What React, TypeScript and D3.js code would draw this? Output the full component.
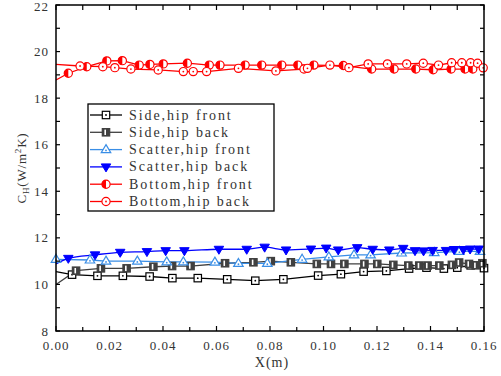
import React from "react";
import * as d3 from "d3";

const xTicks = [0, 0.02, 0.04, 0.06, 0.08, 0.1, 0.12, 0.14, 0.16];
const yTicks = [8, 10, 12, 14, 16, 18, 20, 22];

const sideFrontX = [0, 0.006, 0.0155, 0.025, 0.035, 0.0435, 0.053, 0.064, 0.0745, 0.085, 0.098, 0.1065, 0.115, 0.1235, 0.132, 0.1385, 0.145, 0.15, 0.155, 0.16];
const sideFrontY = [10.55, 10.42, 10.37, 10.37, 10.34, 10.27, 10.27, 10.22, 10.16, 10.22, 10.38, 10.44, 10.55, 10.58, 10.68, 10.72, 10.68, 10.72, 10.82, 10.7];

const sideBackX = [0, 0.0075, 0.0168, 0.0264, 0.0364, 0.0434, 0.0503, 0.0632, 0.0738, 0.0803, 0.0878, 0.0975, 0.1028, 0.1078, 0.1153, 0.1201, 0.1261, 0.1317, 0.1358, 0.1389, 0.1433, 0.148, 0.1507, 0.1544, 0.1569, 0.1594];
const sideBackY = [10.0, 10.59, 10.69, 10.69, 10.76, 10.79, 10.79, 10.91, 10.95, 11.0, 10.95, 10.88, 10.88, 10.88, 10.88, 10.88, 10.84, 10.81, 10.81, 10.81, 10.81, 10.84, 10.94, 10.88, 10.82, 10.91];

const scatFrontX = [0, 0.0127, 0.0187, 0.0304, 0.0414, 0.0476, 0.0594, 0.0682, 0.079, 0.092, 0.102, 0.1114, 0.1176, 0.1292, 0.1414, 0.1508, 0.1585];
const scatFrontY = [11.08, 11.05, 11.0, 11.0, 10.97, 10.97, 10.96, 10.9, 10.9, 11.08, 11.18, 11.27, 11.27, 11.35, 11.37, 11.42, 11.42];

const scatBackX = [0, 0.0046, 0.0146, 0.024, 0.034, 0.041, 0.048, 0.0609, 0.0713, 0.078, 0.086, 0.0953, 0.101, 0.1055, 0.1126, 0.1184, 0.1246, 0.1298, 0.1342, 0.1374, 0.1408, 0.1458, 0.1488, 0.1523, 0.1548, 0.158];
const scatBackY = [10.88, 11.12, 11.27, 11.38, 11.41, 11.45, 11.45, 11.51, 11.51, 11.6, 11.48, 11.52, 11.56, 11.48, 11.58, 11.51, 11.48, 11.55, 11.45, 11.44, 11.46, 11.46, 11.5, 11.5, 11.52, 11.52];

const botFrontX = [0, 0.0046, 0.0115, 0.019, 0.0248, 0.0311, 0.0351, 0.0401, 0.0491, 0.0573, 0.0613, 0.0707, 0.0769, 0.0844, 0.0904, 0.0964, 0.1074, 0.118, 0.1264, 0.1345, 0.141, 0.1477, 0.1529, 0.1558];
const botFrontY = [18.78, 19.07, 19.35, 19.6, 19.61, 19.42, 19.45, 19.47, 19.5, 19.42, 19.42, 19.42, 19.42, 19.42, 19.42, 19.42, 19.4, 19.25, 19.25, 19.25, 19.22, 19.25, 19.25, 19.25];

const botBackX = [0, 0.009, 0.0175, 0.022, 0.028, 0.0382, 0.0476, 0.0513, 0.0563, 0.0682, 0.0822, 0.0927, 0.094, 0.1024, 0.1095, 0.1167, 0.1239, 0.1311, 0.1373, 0.143, 0.1479, 0.1517, 0.155, 0.1576, 0.1597];
const botBackY = [19.45, 19.38, 19.35, 19.31, 19.25, 19.21, 19.14, 19.14, 19.14, 19.28, 19.17, 19.25, 19.28, 19.42, 19.31, 19.47, 19.47, 19.47, 19.5, 19.42, 19.52, 19.52, 19.52, 19.5, 19.3];

const seriesNames = ["Side,hip front", "Side,hip back", "Scatter,hip front", "Scatter,hip back", "Bottom,hip front", "Bottom,hip back"];

type MarkerKind = "sqOpen" | "sqHalf" | "triOpen" | "triDown" | "cirHalf" | "cirOpen";

const FONT = "'Liberation Serif', 'Times New Roman', serif";

function Marker({ kind, x, y, color }: { kind: MarkerKind; x: number; y: number; color: string }) {
  const s = 3.7;
  if (kind === "sqOpen") {
    return (
      <g>
        <rect x={x - s} y={y - s} width={2 * s} height={2 * s} fill="white" stroke={color} strokeWidth={1.2} />
        <circle cx={x} cy={y} r={0.9} fill={color} />
      </g>
    );
  }
  if (kind === "sqHalf") {
    return (
      <g>
        <rect x={x - s} y={y - s} width={2 * s} height={2 * s} fill={color} stroke={color} strokeWidth={1.2} />
        <rect x={x - 1.6} y={y - s + 1} width={1.6} height={2 * s - 2} fill="white" />
      </g>
    );
  }
  if (kind === "triOpen") {
    const r = 5;
    const p = `${x},${y - r} ${x + r * 0.95},${y + r * 0.6} ${x - r * 0.95},${y + r * 0.6}`;
    return (
      <g>
        <polygon points={p} fill="white" stroke={color} strokeWidth={1.2} />
        <circle cx={x} cy={y + 0.8} r={0.9} fill={color} />
      </g>
    );
  }
  if (kind === "triDown") {
    const r = 5;
    const p = `${x},${y + r} ${x + r * 0.95},${y - r * 0.6} ${x - r * 0.95},${y - r * 0.6}`;
    return <polygon points={p} fill={color} stroke={color} strokeWidth={1} />;
  }
  if (kind === "cirHalf") {
    const r = 4.1;
    return (
      <g>
        <circle cx={x} cy={y} r={r} fill="white" stroke={color} strokeWidth={1.2} />
        <path d={`M${x},${y - r} A${r},${r} 0 0 0 ${x},${y + r} Z`} fill={color} />
      </g>
    );
  }
  const r = 4.1;
  return (
    <g>
      <circle cx={x} cy={y} r={r} fill="white" stroke={color} strokeWidth={1.2} />
      <circle cx={x} cy={y} r={0.9} fill={color} />
    </g>
  );
}

export default function App() {
  const left = 56, right = 484, top = 5, bottom = 331;
  const x = d3.scaleLinear().domain([0, 0.16]).range([left, right]);
  const y = d3.scaleLinear().domain([8, 22]).range([bottom, top]);

  const series = [
    { xs: sideFrontX, ys: sideFrontY, color: "#000000", kind: "sqOpen" as MarkerKind, skipFirst: true, curve: d3.curveLinear },
    { xs: sideBackX, ys: sideBackY, color: "#404040", kind: "sqHalf" as MarkerKind, skipFirst: true, curve: d3.curveLinear },
    { xs: scatFrontX, ys: scatFrontY, color: "#3a8ee6", kind: "triOpen" as MarkerKind, skipFirst: false, curve: d3.curveLinear },
    { xs: scatBackX, ys: scatBackY, color: "#0000ff", kind: "triDown" as MarkerKind, skipFirst: true, curve: d3.curveMonotoneX },
    { xs: botFrontX, ys: botFrontY, color: "#ff0000", kind: "cirHalf" as MarkerKind, skipFirst: true, curve: d3.curveLinear },
    { xs: botBackX, ys: botBackY, color: "#ff0000", kind: "cirOpen" as MarkerKind, skipFirst: true, curve: d3.curveLinear },
  ];

  const xMinor = d3.range(0, 0.1601, 0.01);
  const yMinor = d3.range(8, 22.01, 1);

  const legX = 88, legY = 104, legW = 186, legH = 107;
  const rowH = 17.3;

  return (
    <svg width={501} height={376} style={{ position: "absolute", left: 0, top: 0, background: "white" }}>
      <rect x={0} y={0} width={501} height={376} fill="white" />
      {series.map((s, i) => {
        const pts: [number, number][] = s.xs.map((v, j) => [x(v), y(s.ys[j])]);
        const line = d3.line().curve(s.curve)(pts) || "";
        return <path key={"l" + i} d={line} fill="none" stroke={s.color} strokeWidth={1.3} />;
      })}
      {series.map((s, i) => (
        <g key={"m" + i}>
          {s.xs.map((v, j) =>
            s.skipFirst && j === 0 ? null : <Marker key={j} kind={s.kind} x={x(v)} y={y(s.ys[j])} color={s.color} />
          )}
        </g>
      ))}
      <rect x={left} y={top} width={right - left} height={bottom - top} fill="none" stroke="black" strokeWidth={1.5} />
      {xMinor.map((t, i) => {
        const major = i % 2 === 0;
        return (
          <g key={"xt" + i}>
            <line x1={x(t)} x2={x(t)} y1={bottom} y2={bottom - (major ? 5 : 4)} stroke="black" strokeWidth={1.2} />
            <line x1={x(t)} x2={x(t)} y1={top} y2={top + 5} stroke="black" strokeWidth={1.2} />
          </g>
        );
      })}
      {yMinor.map((t, i) => (
        <g key={"yt" + i}>
          <line x1={left} x2={left + 4} y1={y(t)} y2={y(t)} stroke="black" strokeWidth={1.2} />
          <line x1={right} x2={right - 4} y1={y(t)} y2={y(t)} stroke="black" strokeWidth={1.2} />
        </g>
      ))}
      {xTicks.map((t, i) => (
        <text key={"xl" + i} x={x(t)} y={350} textAnchor="middle" fontFamily={FONT} fontSize={13} letterSpacing={1} fill="#333">
          {t.toFixed(2)}
        </text>
      ))}
      {yTicks.map((t, i) => (
        <text key={"yl" + i} x={49} y={Math.max(y(t) + 4.5, 11)} textAnchor="end" fontFamily={FONT} fontSize={13} letterSpacing={1} fill="#333">
          {t}
        </text>
      ))}
      <text x={272} y={367} textAnchor="middle" fontFamily={FONT} fontSize={14} letterSpacing={1} fill="#333">
        X(m)
      </text>
      <text transform={`translate(26,168) rotate(-90)`} textAnchor="middle" fontFamily={FONT} fontSize={13} letterSpacing={0.8} fill="#333">
        <tspan>C</tspan>
        <tspan fontSize={9} dy={3}>H</tspan>
        <tspan dy={-3}>(W/m</tspan>
        <tspan fontSize={9} dy={-5}>2</tspan>
        <tspan dy={5}>K)</tspan>
      </text>
      <rect x={legX} y={legY} width={legW} height={legH} fill="white" stroke="black" strokeWidth={1.3} />
      {series.map((s, i) => {
        const cy = legY + 11 + i * rowH;
        return (
          <g key={"lg" + i}>
            <line x1={legX + 2} x2={legX + 34} y1={cy} y2={cy} stroke={s.color} strokeWidth={1.3} />
            <Marker kind={s.kind} x={legX + 18} y={cy} color={s.color} />
            <text x={legX + 41} y={cy + 4.5} fontFamily={FONT} fontSize={14} letterSpacing={1.9} fill="#333">
              {seriesNames[i]}
            </text>
          </g>
        );
      })}
    </svg>
  );
}
